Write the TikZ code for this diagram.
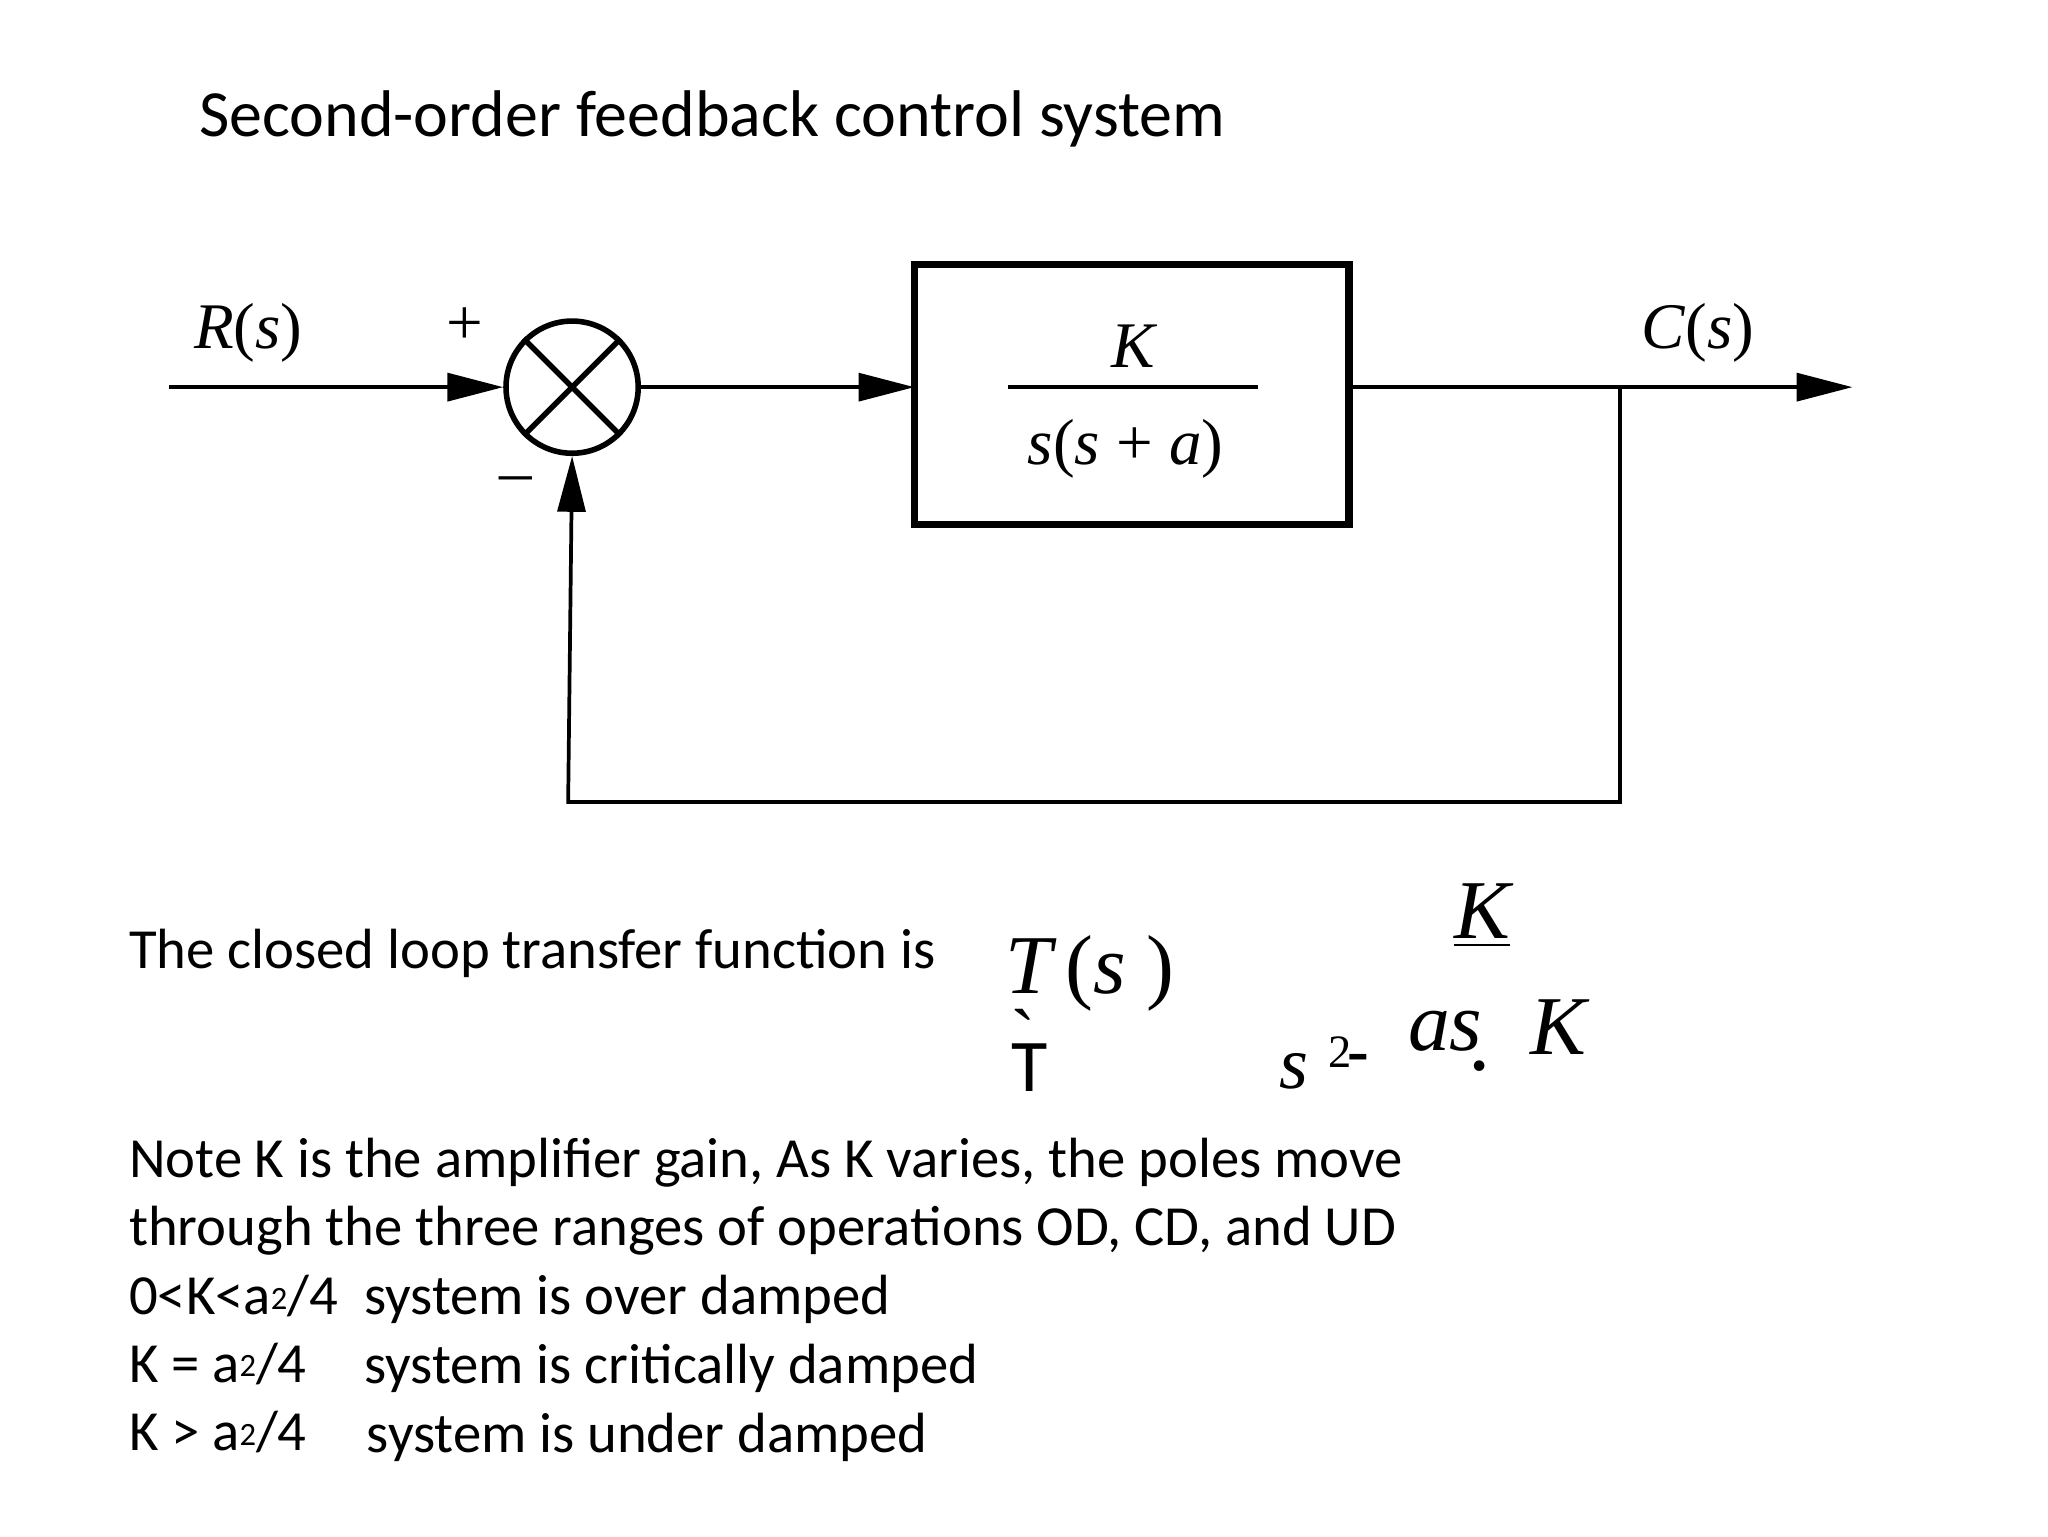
\documentclass[tikz,border=0pt]{standalone}
\usepackage{fontspec}
\setmainfont{Carlito}
\newfontfamily\tms{Liberation Serif}
\usetikzlibrary{arrows.meta}
\begin{document}
\begin{tikzpicture}[x=0.01cm,y=-0.01cm,
  ln/.style={line width=0.8pt},
  arr/.style={ln,-{Triangle[length=12pt,width=6pt]}},
  txt/.style={anchor=base west,inner sep=0,font=\fontsize{12.2pt}{14pt}\selectfont},
  sf/.style={inner sep=0,font=\tms\fontsize{14pt}{16pt}\selectfont},
  eq/.style={anchor=base west,inner sep=0,font=\tms\itshape\fontsize{18pt}{20pt}\selectfont}]
\useasboundingbox (0,0) rectangle (1550,1162.5);
\node[anchor=base west,inner sep=0,font=\fontsize{14.2pt}{16pt}\selectfont] (title) at (150,103) {Second-order feedback control system};
\coordinate (in) at (128,293);
\node[circle,draw,line width=1.2pt,minimum size=1cm,inner sep=0] (sum) at (433,293) {};
\draw[line width=1.2pt] (sum.north west)--(sum.south east) (sum.north east)--(sum.south west);
\coordinate (b1) at (692,200); \coordinate (b2) at (1021,397);
\draw[line width=1.6pt] (b1) rectangle (b2);
\coordinate (bl) at (692,293); \coordinate (br) at (1021,293);
\draw[ln] (763,293)--(952,293);
\node[sf,font=\tms\itshape\fontsize{14pt}{16pt}\selectfont] (K) at (858,262) {K};
\node[sf] (den) at (852,340) {\textit{s}(\textit{s} + \textit{a})};
\node[sf] (R) at (188,252) {\textit{R}(\textit{s})};
\node[sf] (C) at (1285,252) {\textit{C}(\textit{s})};
\node[sf] (plus) at (352,247) {+};
\node[sf] (minus) at (390,367) {\textendash};
\coordinate (out) at (1402,293);
\coordinate (tap) at (1226,293);
\coordinate (fb1) at (1226,607); \coordinate (fb2) at (430,607);
\draw[arr] (in)--(sum.west);
\draw[arr] (sum.east)--(bl);
\draw[arr] (br)--(out);
\draw[arr] (tap)--(fb1)--(fb2)--(sum.south);
\node[txt] (cl) at (97,733) {The closed loop transfer function is};
\node[eq] (T) at (760,752) {T\,\upshape(\itshape s\upshape\ )};
\node[anchor=base west,inner sep=0,font=\fontsize{16pt}{18pt}\selectfont] (g) at (765,826) {T};
\node[anchor=base west,inner sep=0,font=\tms\fontsize{16pt}{18pt}\selectfont] (ga) at (768,814) {\`{}};
\node[eq] (K2) at (1100,710) {\underline{K}};
\node[anchor=base west,inner sep=0,font=\tms\itshape\fontsize{16pt}{20pt}\selectfont] (s2) at (968,824) {s};
\node[anchor=base west,inner sep=0,font=\tms\fontsize{10pt}{12pt}\selectfont] (two) at (1005,808) {2};
\node[anchor=base west,inner sep=0,font=\tms\bfseries\fontsize{14pt}{16pt}\selectfont] (d1) at (1019,812) {-};
\node[eq] (as) at (1065,795) {as};
\node[anchor=base west,inner sep=0,font=\tms\bfseries\fontsize{14pt}{16pt}\selectfont] (d2) at (1113,810) {.};
\node[eq] (K3) at (1158,798) {K};
\node[txt] (n1) at (97,891) {Note K is the amplifier gain, As K varies, the poles move};
\node[txt] (n2) at (97,943) {through the three ranges of operations OD, CD, and UD};
\node[txt] (n3) at (97,995) {0<K<a{\fontsize{7pt}{8pt}\selectfont\raisebox{0.35ex}{2}}/4};
\node[txt] (n3b) at (275,995) {system is over damped};
\node[txt] (n4) at (97,1046) {K = a{\fontsize{7pt}{8pt}\selectfont\raisebox{0.35ex}{2}}/4};
\node[txt] (n4b) at (275,1047) {system is critically damped};
\node[txt] (n5) at (97,1098) {K > a{\fontsize{7pt}{8pt}\selectfont\raisebox{0.35ex}{2}}/4};
\node[txt] (n5b) at (277,1099) {system is under damped};
\end{tikzpicture}
\end{document}
